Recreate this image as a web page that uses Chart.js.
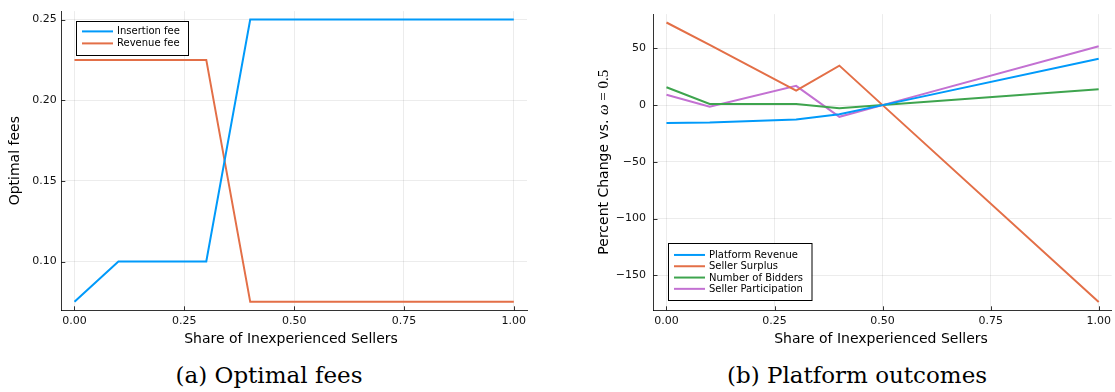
<!DOCTYPE html>
<html>
<head>
<meta charset="utf-8">
<script src="https://cdn.jsdelivr.net/npm/chart.js@4.4.1/dist/chart.umd.min.js"></script>
<style>
  html, body { margin: 0; padding: 0; background: #fff; }
  body { width: 1115px; height: 392px; position: relative; overflow: hidden; }
  canvas { position: absolute; top: 0; }
  .cap { position: absolute; top: 360px; font-family: "DejaVu Serif", serif; font-size: 23px; color: #000; white-space: nowrap; transform: translateX(-50%); line-height: 30px; }
</style>
</head>
<body>
<canvas id="left" width="555" height="350" style="left:0px"></canvas>
<canvas id="right" width="555" height="350" style="left:560px"></canvas>
<div class="cap" style="left:269px">(a) Optimal fees</div>
<div class="cap" style="left:857px">(b) Platform outcomes</div>
<script>
// ---------- data ----------
const shareLeft = [0.0, 0.1, 0.2, 0.3, 0.4, 0.5, 0.6, 0.7, 0.8, 0.9, 1.0];
const insertionFee = [0.075, 0.10, 0.10, 0.10, 0.25, 0.25, 0.25, 0.25, 0.25, 0.25, 0.25];
const revenueFee = [0.225, 0.225, 0.225, 0.225, 0.075, 0.075, 0.075, 0.075, 0.075, 0.075, 0.075];

const shareRight = [0.0, 0.1, 0.3, 0.4, 0.5, 1.0];
const platformRevenue = [-15.7, -15.3, -12.6, -8.0, 0.0, 40.8];
const sellerSurplus = [72.8, 53.0, 12.8, 34.8, 0.0, -173.4];
const numberOfBidders = [15.7, 1.0, 1.0, -2.8, 0.0, 14.0];
const sellerParticipation = [9.1, -1.5, 17.0, -10.3, 0.0, 51.9];

const xTicks = [0.0, 0.25, 0.5, 0.75, 1.0];
const yTicksLeft = [0.10, 0.15, 0.20, 0.25];
const yTicksRight = [-150, -100, -50, 0, 50];

const leftLabels = ["Insertion fee", "Revenue fee"];
const rightLabels = ["Platform Revenue", "Seller Surplus", "Number of Bidders", "Seller Participation"];
const colors = ["#009AFA", "#E36F47", "#3EA44E", "#C371D2"];

// ---------- helpers ----------
Chart.defaults.font.family = "'DejaVu Sans', sans-serif";
Chart.defaults.color = "#111";

function pts(xs, ys) { return xs.map((x, i) => ({ x: x, y: ys[i] })); }

const decor = {
  id: "decor",
  afterDraw(chart, args, o) {
    const ctx = chart.ctx, ca = chart.chartArea;
    const xs = chart.scales.x, ys = chart.scales.y;
    ctx.save();
    // inward tick marks
    ctx.strokeStyle = "rgba(0,0,0,0.8)";
    ctx.lineWidth = 1;
    ctx.beginPath();
    xs.ticks.forEach(t => {
      const px = Math.round(xs.getPixelForValue(t.value)) + 0.5;
      ctx.moveTo(px, ca.bottom); ctx.lineTo(px, ca.bottom - 4);
    });
    ys.ticks.forEach(t => {
      const py = Math.round(ys.getPixelForValue(t.value)) + 0.5;
      ctx.moveTo(ca.left, py); ctx.lineTo(ca.left + 4, py);
    });
    ctx.stroke();

    // x title
    ctx.fillStyle = "#000";
    ctx.font = "14px 'DejaVu Sans'";
    ctx.textAlign = "center";
    ctx.textBaseline = "middle";
    ctx.fillText(o.xTitle, o.xTitleX, o.xTitleY);

    // y title (rotated, possibly multi-font)
    const cy = (ca.top + ca.bottom) / 2;
    ctx.translate(o.yTitleX, cy);
    ctx.rotate(-Math.PI / 2);
    let total = 0;
    o.yTitle.forEach(p => { ctx.font = p.font; p.w = ctx.measureText(p.text).width; total += p.w; });
    let xx = -total / 2;
    ctx.textAlign = "left";
    o.yTitle.forEach(p => { ctx.font = p.font; ctx.fillText(p.text, xx, 0); xx += p.w; });
    ctx.setTransform(1, 0, 0, 1, 0, 0);

    // legend box
    const L = o.legend;
    const bx = ca.left + L.dx;
    const n = chart.data.datasets.length;
    const bh = L.padTop + L.rowH * n + L.padBottom;
    const by = L.anchorBottom ? ca.bottom - L.dy - bh : ca.top + L.dy;
    ctx.fillStyle = "#fff";
    ctx.fillRect(bx, by, L.w, bh);
    ctx.strokeStyle = "#000";
    ctx.lineWidth = 1;
    ctx.strokeRect(Math.round(bx) + 0.5, Math.round(by) + 0.5, L.w, bh);
    ctx.font = "10px 'DejaVu Sans'";
    ctx.textBaseline = "middle";
    ctx.textAlign = "left";
    chart.data.datasets.forEach((ds, i) => {
      const ry = by + L.padTop + L.rowH * (i + 0.5);
      ctx.strokeStyle = ds.borderColor;
      ctx.lineWidth = 2;
      ctx.beginPath();
      ctx.moveTo(bx + 6, ry); ctx.lineTo(bx + 37, ry);
      ctx.stroke();
      ctx.fillStyle = "#000";
      ctx.fillText(ds.label, bx + 41, ry + 0.5);
    });
    ctx.restore();
  }
};

function makeChart(id, datasets, cfg) {
  const c = document.getElementById(id);
  return new Chart(c, {
    type: "line",
    data: { datasets: datasets },
    plugins: [decor],
    options: {
      responsive: false,
      animation: false,
      events: [],
      layout: { padding: { top: 7, right: cfg.padRight, left: 0, bottom: 0 } },
      elements: { point: { radius: 0 }, line: { borderWidth: 2, tension: 0 } },
      plugins: { legend: { display: false }, tooltip: { enabled: false }, decor: cfg.decor },
      scales: {
        x: {
          type: "linear",
          min: -0.03, max: 1.03,
          afterBuildTicks: s => { s.ticks = xTicks.map(v => ({ value: v })); },
          afterFit: s => { s.height = 350 - 310.3; },
          ticks: { padding: 4, font: { size: 11 }, color: "#111", callback: v => v.toFixed(2) },
          grid: { color: "rgba(0,0,0,0.075)", lineWidth: 1, drawTicks: false },
          border: { display: true, color: "rgba(0,0,0,0.8)", width: 1 }
        },
        y: {
          type: "linear",
          min: cfg.yMin, max: cfg.yMax,
          afterBuildTicks: s => { s.ticks = cfg.yTicks.map(v => ({ value: v })); },
          afterFit: s => { s.width = cfg.axisLeft; },
          ticks: { padding: cfg.yPad, font: { size: 11 }, color: "#111", callback: cfg.yFmt },
          grid: { color: "rgba(0,0,0,0.075)", lineWidth: 1, drawTicks: false },
          border: { display: true, color: "rgba(0,0,0,0.8)", width: 1 }
        }
      }
    }
  });
}

makeChart("left", [
  { label: leftLabels[0], data: pts(shareLeft, insertionFee), borderColor: colors[0] },
  { label: leftLabels[1], data: pts(shareLeft, revenueFee), borderColor: colors[1] }
], {
  padRight: 555 - 527,
  axisLeft: 61.3,
  yMin: 0.06975, yMax: 0.25525,
  yTicks: yTicksLeft,
  yPad: 4.5,
  yFmt: v => v.toFixed(2),
  decor: {
    xTitle: "Share of Inexperienced Sellers", xTitleX: 291, xTitleY: 339.7,
    yTitle: [{ text: "Optimal fees", font: "14px 'DejaVu Sans'" }], yTitleX: 15.5,
    legend: { anchorBottom: false, dx: 14.7, dy: 10, w: 112, padTop: 4.3, rowH: 12, padBottom: 5.7 }
  }
});

makeChart("right", [
  { label: rightLabels[0], data: pts(shareRight, platformRevenue), borderColor: colors[0] },
  { label: rightLabels[1], data: pts(shareRight, sellerSurplus), borderColor: colors[1] },
  { label: rightLabels[2], data: pts(shareRight, numberOfBidders), borderColor: colors[2] },
  { label: rightLabels[3], data: pts(shareRight, sellerParticipation), borderColor: colors[3] }
], {
  padRight: 555 - 553.3,
  axisLeft: 93.5,
  yMin: -180.8, yMax: 80.2,
  yTicks: yTicksRight,
  yPad: 7.5,
  yFmt: v => (v < 0 ? "\u2212" + Math.abs(v) : String(v)),
  decor: {
    xTitle: "Share of Inexperienced Sellers", xTitleX: 321, xTitleY: 339.7,
    yTitle: [
      { text: "Percent Change vs. ", font: "14px 'DejaVu Sans'" },
      { text: "\u03C9", font: "italic 15px 'Liberation Serif'" },
      { text: " = 0.5", font: "15px 'Liberation Serif'" }
    ], yTitleX: 44.2,
    legend: { anchorBottom: true, dx: 14.5, dy: 10, w: 143.5, padTop: 6, rowH: 11.3, padBottom: 5.8 }
  }
});
</script>
</body>
</html>
